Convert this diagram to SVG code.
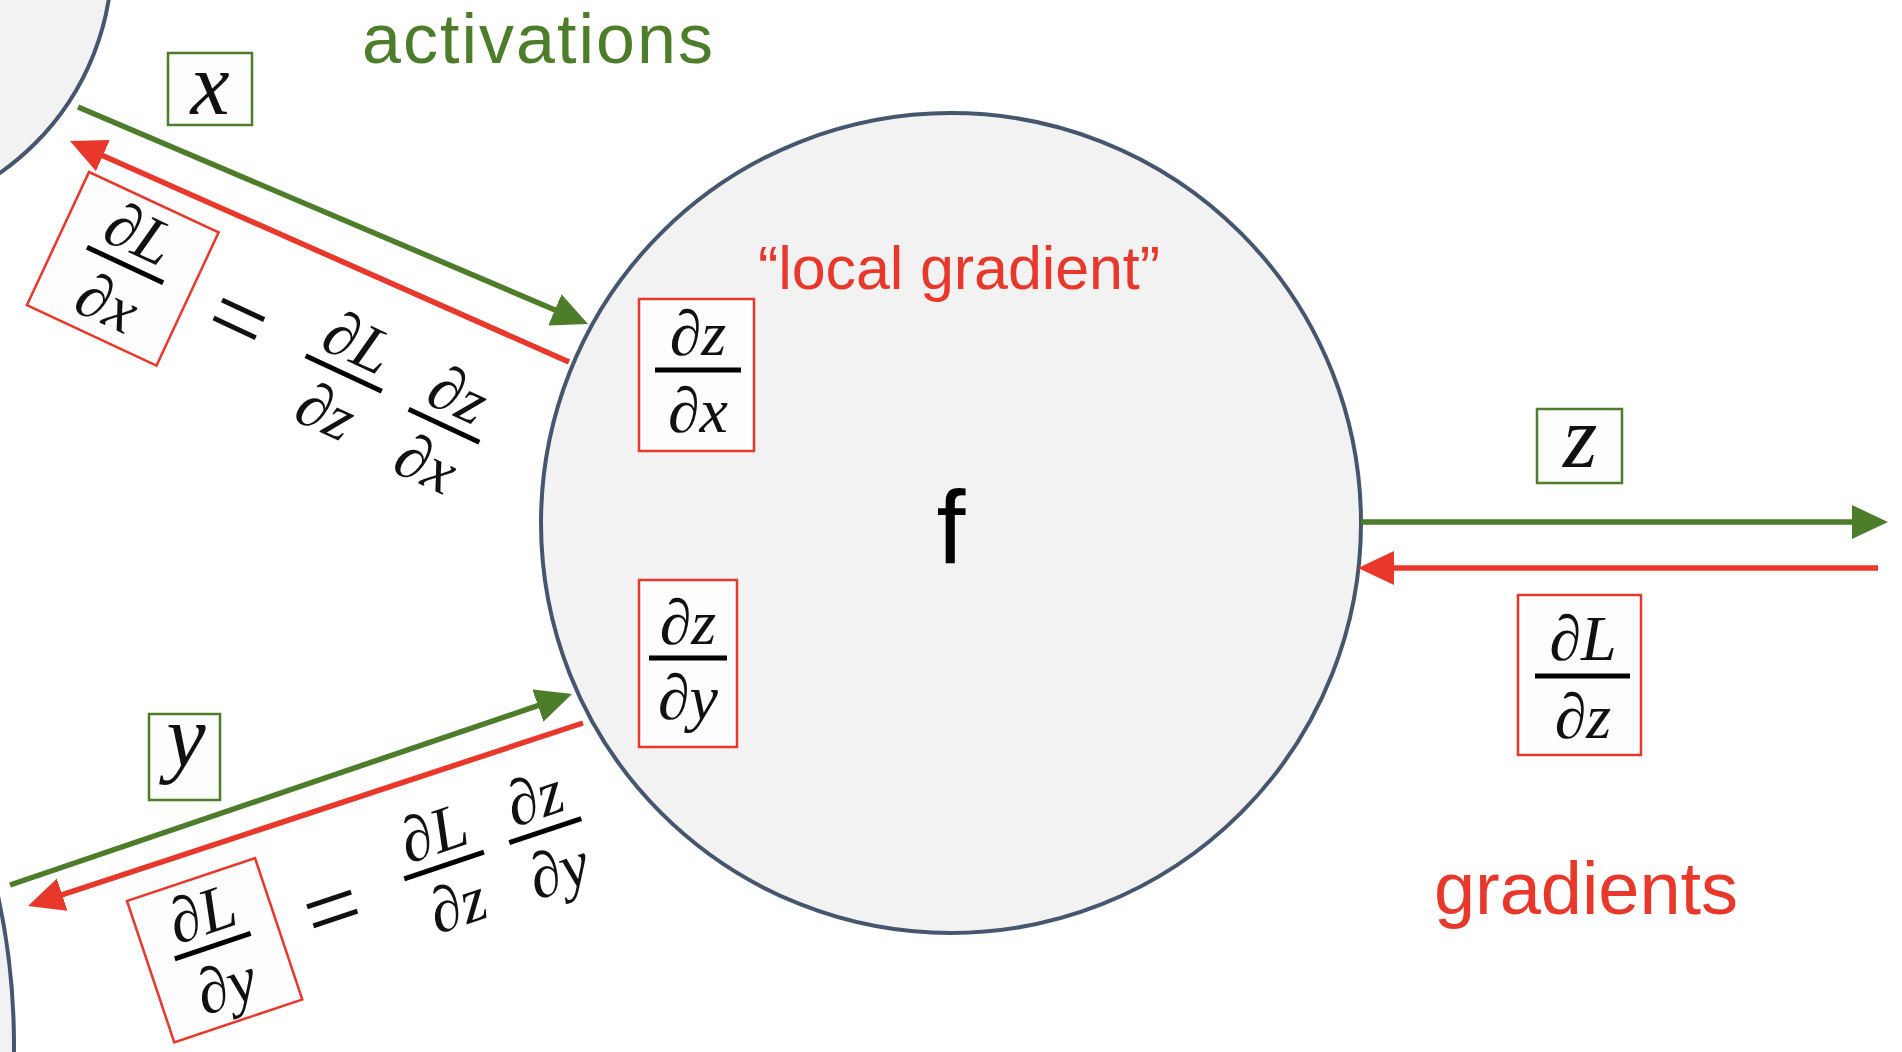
<svg xmlns="http://www.w3.org/2000/svg" width="1902" height="1052" viewBox="0 0 1902 1052">
<style>
.node{fill:#f2f2f2;stroke:#46566e;stroke-width:4}
.g{stroke:#4d7c2a;stroke-width:5.5;fill:none}
.r{stroke:#e8382b;stroke-width:5.5;fill:none}
.gbox{fill:#fdfdfd;stroke:#4d7c2a;stroke-width:2.5}
.rbox{fill:#fdfdfd;stroke:#e8382b;stroke-width:2.5}
.bar{stroke:#000;stroke-width:5}
.m{font-family:"Liberation Serif","DejaVu Serif",serif;font-size:64px;fill:#111;text-anchor:middle}
.v{font-family:"Liberation Serif","DejaVu Serif",serif;font-size:88px;font-style:italic;fill:#111;text-anchor:middle}
.i{font-style:italic}
.eq{font-family:"Liberation Serif","DejaVu Serif",serif;font-size:100px;fill:#111;text-anchor:middle}
.sans{font-family:"Liberation Sans",Arial,sans-serif}
</style>
<defs>
<marker id="ag" markerUnits="userSpaceOnUse" markerWidth="40" markerHeight="36" refX="6" refY="17" orient="auto"><path d="M0,0 L36,17 L0,34 Z" fill="#4d7c2a"/></marker>
<marker id="ar" markerUnits="userSpaceOnUse" markerWidth="40" markerHeight="36" refX="6" refY="17" orient="auto"><path d="M0,0 L36,17 L0,34 Z" fill="#e8382b"/></marker>
</defs>
<rect width="1902" height="1052" fill="#ffffff"/>

<g id="node-prev-x"><circle class="node" cx="-150" cy="-42" r="262"/></g>
<g id="node-prev-y"><circle class="node" cx="-686" cy="1045" r="700"/></g>
<g id="node-f">
<circle class="node" cx="951" cy="523" r="410"/>
<text class="sans" x="951" y="563" font-size="104" text-anchor="middle" fill="#000">f</text>
<text class="sans" x="758" y="289" font-size="61" fill="#e8382b" textLength="402">“local gradient”</text>
</g>

<g id="connectors">
<line class="g" x1="78" y1="107" x2="560.4" y2="312.2" marker-end="url(#ag)"/>
<line class="r" x1="569" y1="362" x2="97.4" y2="153.2" marker-end="url(#ar)"/>
<line class="g" x1="10" y1="885" x2="543.6" y2="703.7" marker-end="url(#ag)"/>
<line class="r" x1="583" y1="723" x2="56.5" y2="896.6" marker-end="url(#ar)"/>
<line class="g" x1="1361" y1="522" x2="1858" y2="522" marker-end="url(#ag)"/>
<line class="r" x1="1878" y1="568" x2="1388" y2="568" marker-end="url(#ar)"/>
</g>

<g id="label-activations"><text class="sans" x="362" y="63" font-size="70" fill="#4d7c2a" textLength="351">activations</text></g>
<g id="label-gradients"><text class="sans" x="1434" y="914" font-size="74" fill="#e8382b" textLength="304">gradients</text></g>

<g id="label-x"><rect class="gbox" x="168" y="53" width="84" height="72"/><text class="v" x="210" y="114">x</text></g>
<g id="label-y"><rect class="gbox" x="149" y="714" width="71" height="86"/><text class="v" x="186" y="766">y</text></g>
<g id="label-z"><rect class="gbox" x="1537" y="409" width="85" height="74"/><text class="v" x="1580" y="467">z</text></g>

<g id="local-dzdx">
<rect class="rbox" x="639" y="299" width="115" height="152"/>
<text class="m" x="698" y="355">∂<tspan class="i">z</tspan></text>
<line class="bar" x1="655" y1="370" x2="741" y2="370"/>
<text class="m" x="698" y="432">∂<tspan class="i">x</tspan></text>
</g>
<g id="local-dzdy">
<rect class="rbox" x="639" y="580" width="98" height="167"/>
<text class="m" x="688" y="644">∂<tspan class="i">z</tspan></text>
<line class="bar" x1="649" y1="658" x2="727" y2="658"/>
<text class="m" x="688" y="719">∂<tspan class="i">y</tspan></text>
</g>
<g id="grad-dLdz">
<rect class="rbox" x="1518" y="595" width="123" height="160"/>
<text class="m" x="1583" y="660">∂<tspan class="i">L</tspan></text>
<line class="bar" x1="1535" y1="676" x2="1630" y2="676"/>
<text class="m" x="1583" y="738">∂<tspan class="i">z</tspan></text>
</g>

<g id="grad-dLdx" transform="translate(89,172) rotate(25)">
<rect class="rbox" x="0" y="0" width="143" height="147"/>
<text class="m" x="72" y="56">∂<tspan class="i">L</tspan></text>
<line class="bar" x1="30" y1="69" x2="114" y2="69"/>
<text class="m" x="72" y="132">∂<tspan class="i">x</tspan></text>
<text class="eq" x="198" y="103">=</text>
<text class="m" x="316" y="62">∂<tspan class="i">L</tspan></text>
<line class="bar" x1="274" y1="75" x2="358" y2="75"/>
<text class="m" x="316" y="138">∂<tspan class="i">z</tspan></text>
<text class="m" x="429" y="67">∂<tspan class="i">z</tspan></text>
<line class="bar" x1="390" y1="80" x2="468" y2="80"/>
<text class="m" x="429" y="143">∂<tspan class="i">x</tspan></text>
</g>

<g id="grad-dLdy" transform="translate(127,901) rotate(-18.5)">
<rect class="rbox" x="0" y="0" width="135" height="149"/>
<text class="m" x="67" y="57">∂<tspan class="i">L</tspan></text>
<line class="bar" x1="27" y1="70" x2="107" y2="70"/>
<text class="m" x="67" y="133">∂<tspan class="i">y</tspan></text>
<text class="eq" x="192" y="106">=</text>
<text class="m" x="312" y="54">∂<tspan class="i">L</tspan></text>
<line class="bar" x1="270" y1="67" x2="354" y2="67"/>
<text class="m" x="312" y="130">∂<tspan class="i">z</tspan></text>
<text class="m" x="419" y="53">∂<tspan class="i">z</tspan></text>
<line class="bar" x1="381" y1="66" x2="457" y2="66"/>
<text class="m" x="419" y="129">∂<tspan class="i">y</tspan></text>
</g>
</svg>
